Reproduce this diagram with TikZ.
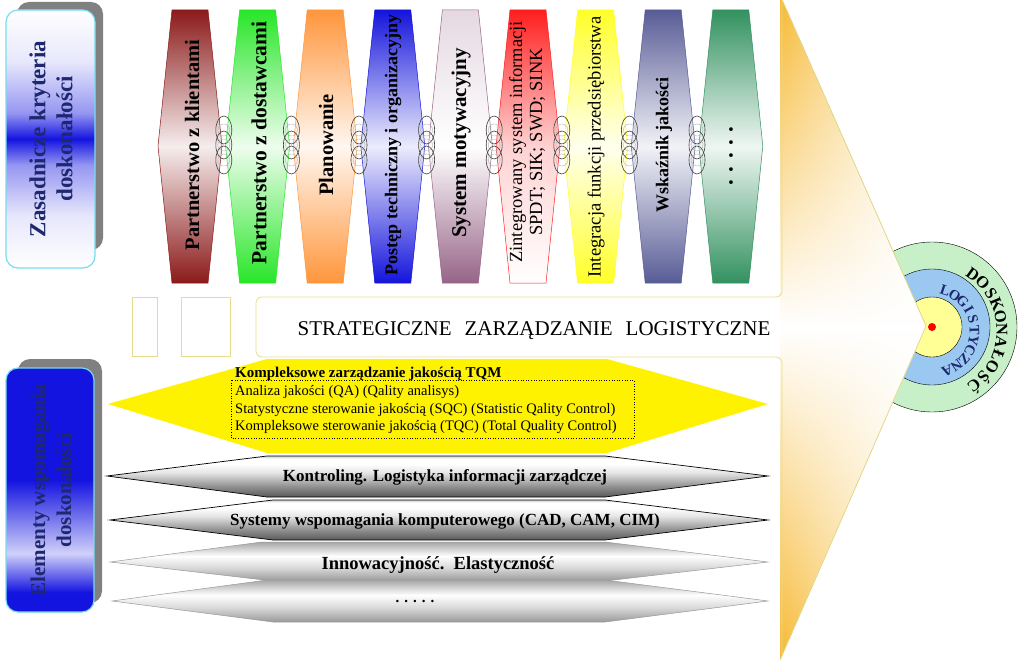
\documentclass[tikz,border=0pt]{standalone}
\usepackage{fontspec}
\setmainfont{Liberation Serif}
\usetikzlibrary{fadings}

\definecolor{hexred}{RGB}{139,26,26}
\definecolor{hexgreen}{RGB}{40,230,40}
\definecolor{hexorange}{RGB}{255,150,60}
\definecolor{hexblue}{RGB}{20,20,220}
\definecolor{hexmauve}{RGB}{150,100,135}
\definecolor{hexbright}{RGB}{255,30,30}
\definecolor{hexyellow}{RGB}{255,255,40}
\definecolor{hexslate}{RGB}{88,92,150}
\definecolor{hexteal}{RGB}{50,145,95}
\definecolor{panelline}{RGB}{230,220,140}
\definecolor{arroworange}{RGB}{247,185,50}
\definecolor{boxblue}{RGB}{20,20,225}
\definecolor{boxline}{RGB}{120,220,240}
\definecolor{navytext}{RGB}{30,40,110}
\definecolor{ringgreen}{RGB}{200,240,200}
\definecolor{ringblue}{RGB}{155,200,240}
\definecolor{ringyellow}{RGB}{255,255,150}

\pgfdeclareverticalshading{metal}{100bp}{color(0bp)=(black!65); color(25bp)=(black!65); color(37bp)=(black!45); color(55bp)=(black!10); color(65bp)=(white); color(72bp)=(white); color(75bp)=(black!20); color(100bp)=(black!20)}
\pgfdeclareverticalshading{metallight}{100bp}{color(0bp)=(black!40); color(25bp)=(black!40); color(42bp)=(black!15); color(57bp)=(white); color(75bp)=(black!35); color(100bp)=(black!35)}
\pgfdeclareverticalshading{bluemid}{100bp}{color(0bp)=(white); color(25bp)=(white); color(35bp)=(boxblue!10); color(45bp)=(boxblue!45); color(50bp)=(boxblue); color(55bp)=(boxblue!45); color(65bp)=(boxblue!10); color(75bp)=(white); color(100bp)=(white)}
\pgfdeclareverticalshading{bluebox}{100bp}{color(0bp)=(boxblue); color(29bp)=(boxblue); color(37bp)=(boxblue!20); color(52bp)=(boxblue); color(100bp)=(boxblue)}
\tikzfading[name=fadetip, left color=transparent!100, right color=transparent!0]

\begin{document}
\begin{tikzpicture}[x=1pt,y=-1pt,
  hexa/.style={draw=#1,line width=0.5pt,top color=#1,bottom color=#1,middle color=#1!8},
  vtext/.style={rotate=90,align=center,inner sep=0pt},
  link/.style={draw=black!75,line width=0.6pt},
  linkin/.style={draw=black!30,line width=0.4pt},
  panel/.style={draw=panelline,line width=0.8pt},
  band/.style={shade,shading=metal,draw=black,line width=0.7pt},
  bandlight/.style={shade,shading=metallight,draw=black!40,line width=0.5pt},
  sidebox/.style={draw=boxline,line width=1.2pt,rounded corners=12pt},
  shadowbox/.style={fill=gray,rounded corners=12pt},
  ringletter/.style={inner sep=0pt,font=\bfseries\fontsize{16.5}{16}\selectfont}]
\useasboundingbox (0,0) rectangle (1024,660);

\draw[fill=ringgreen] (932,327) circle (85);
\draw[fill=ringblue] (932,327) circle (58);
\draw[fill=ringyellow] (932,327) circle (30);

\fill[top color=arroworange,bottom color=arroworange,middle color=white] (780,-5) -- (926,326) -- (780,660) -- cycle;
\fill[white,path fading=fadetip] (780,-5) -- (926,326) -- (780,660) -- cycle;
\draw[panel] (780,-5) -- (926,326) -- (780,660);
\fill[red] (932,327) circle (4);

\foreach \l [count=\i, evaluate=\i as \a using 54.2-10.63*(\i-1)] in {D,O,S,K,O,N,A,Ł,O,Ś,Ć}
  \node[ringletter,rotate=\a-90] (dosk\i) at ([shift={(\a:70pt)}]932,331) {\l};
\foreach \l [count=\i, evaluate=\i as \a using 72-14.1*(\i-1)] in {L,O,G,I,S,T,Y,C,Z,N,A}
  \node[ringletter,text=navytext,font=\bfseries\fontsize{14.5}{14}\selectfont,rotate=\a-90] (logi\i) at ([shift={(\a:42.5pt)}]932,331) {\l};

\draw[panel,rounded corners=6pt] (782,0) -- (782,297) -- (256,297) -- (256,357) -- (782,357) -- (782,655);
\draw[panel] (132,297) rectangle (157,356);
\draw[panel] (181,297) rectangle (230,356);

\path[hexa=hexred] (172,10) -- ++(36,0) -- ++(14,136) -- ++(-14,137) -- ++(-36,0) -- ++(-14,-137) -- cycle;
\path[hexa=hexgreen] (239.6,10) -- ++(36,0) -- ++(14,136) -- ++(-14,137) -- ++(-36,0) -- ++(-14,-137) -- cycle;
\path[hexa=hexorange] (307.2,10) -- ++(36,0) -- ++(14,136) -- ++(-14,137) -- ++(-36,0) -- ++(-14,-137) -- cycle;
\path[hexa=hexblue] (374.8,10) -- ++(36,0) -- ++(14,136) -- ++(-14,137) -- ++(-36,0) -- ++(-14,-137) -- cycle;
\path[draw=hexmauve,line width=0.5pt,top color=hexmauve!25,bottom color=hexmauve,middle color=white] (442.4,10) -- ++(36,0) -- ++(14,136) -- ++(-14,137) -- ++(-36,0) -- ++(-14,-137) -- cycle;
\path[draw=hexbright,line width=0.5pt,top color=hexbright,bottom color=white,middle color=hexbright!20] (510,10) -- ++(36,0) -- ++(14,136) -- ++(-14,137) -- ++(-36,0) -- ++(-14,-137) -- cycle;
\path[hexa=hexyellow] (577.6,10) -- ++(36,0) -- ++(14,136) -- ++(-14,137) -- ++(-36,0) -- ++(-14,-137) -- cycle;
\path[hexa=hexslate] (645.2,10) -- ++(36,0) -- ++(14,136) -- ++(-14,137) -- ++(-36,0) -- ++(-14,-137) -- cycle;
\path[hexa=hexteal] (712.8,10) -- ++(36,0) -- ++(14,136) -- ++(-14,137) -- ++(-36,0) -- ++(-14,-137) -- cycle;

\foreach \cx in {223.8,291.4,359,426.6,494.2,561.8,629.4,697}
  \foreach \cy in {130,145,160} {
    \draw[linkin] (\cx,\cy) circle (6);
    \draw[link] (\cx,\cy) ellipse (8 and 14);
  }

\node[vtext,font=\bfseries\fontsize{20.5}{22}\selectfont] (klient) at (192,145) {Partnerstwo z klientami};
\node[vtext,font=\bfseries\fontsize{21.5}{22}\selectfont] (dostaw) at (259,143) {Partnerstwo z dostawcami};
\node[vtext,font=\bfseries\fontsize{20.5}{22}\selectfont] (plan) at (326,145) {Planowanie};
\node[vtext,font=\bfseries\fontsize{18}{20}\selectfont] (postep) at (393,145) {Postęp techniczny i organizacyjny};
\node[vtext,font=\bfseries\fontsize{21}{22}\selectfont] (motyw) at (461,143) {System motywacyjny};
\node[vtext,font=\fontsize{18.5}{20}\selectfont] (zinteg) at (527,142) {Zintegrowany system informacji\\SPDT; SIK; SWD; SINK};
\node[vtext,font=\fontsize{18.5}{20}\selectfont] (integr) at (596,147) {Integracja funkcji przedsiębiorstwa};
\node[vtext,font=\bfseries\fontsize{18}{20}\selectfont] (wskaz) at (664,145) {Wskaźnik jakości};
\node[vtext,font=\bfseries\fontsize{23}{24}\selectfont] (kropki) at (731,156) {. . . . .};

\node[font=\fontsize{21}{22}\selectfont] (strat) at (534,331) {STRATEGICZNE\hspace{13pt}ZARZĄDZANIE\hspace{13pt}LOGISTYCZNE};

\fill[yellow] (108,404) -- (267,359) -- (607,359) -- (768,404) -- (607,453) -- (267,453) -- cycle;
\node[anchor=base west,inner sep=0pt,font=\bfseries\fontsize{15}{16}\selectfont] (tqm) at (235,377) {Kompleksowe zarządzanie jakością TQM};
\draw[dotted,line width=0.6pt] (231,380) rectangle (634,438);
\node[anchor=base west,inner sep=0pt,font=\fontsize{14.5}{16}\selectfont] (qa) at (235,395) {Analiza jakości (QA) (Qality analisys)};
\node[anchor=base west,inner sep=0pt,font=\fontsize{14.5}{16}\selectfont] (sqc) at (235,413) {Statystyczne sterowanie jakością (SQC) (Statistic Qality Control)};
\node[anchor=base west,inner sep=0pt,font=\fontsize{14.5}{16}\selectfont] (tqc) at (235,430.5) {Kompleksowe sterowanie jakością (TQC) (Total Quality Control)};

\path[band] (107,476) -- (267,456) -- (605,456) -- (768,476) -- (605,497) -- (267,497) -- cycle;
\path[band] (110,520) -- (273,500) -- (605,500) -- (768,520) -- (605,540) -- (273,540) -- cycle;
\path[bandlight] (110,562) -- (262,542) -- (605,542) -- (768,562) -- (605,581) -- (273,581) -- cycle;
\path[bandlight] (112,601) -- (267,580) -- (605,580) -- (768,601) -- (605,622) -- (273,622) -- cycle;
\node[font=\bfseries\fontsize{17}{18}\selectfont] (kontr) at (445,477) {Kontroling. Logistyka informacji zarządczej};
\node[font=\bfseries\fontsize{17}{18}\selectfont] (cad) at (445,521) {Systemy wspomagania komputerowego (CAD, CAM, CIM)};
\node[font=\bfseries\fontsize{18.5}{20}\selectfont] (innow) at (438,565) {Innowacyjność.\ \ Elastyczność};
\node[font=\bfseries\fontsize{15}{16}\selectfont] (dalej) at (415,601) {. . . . .};

\path[shadowbox] (17,2) rectangle (103,250);
\path[sidebox,shade,shading=bluemid] (6,10) rectangle (95,268);
\node[vtext,text=navytext,font=\bfseries\fontsize{23}{27}\selectfont] (kryt) at (51,139) {Zasadnicze kryteria\\doskonałości};
\path[shadowbox] (18,359) rectangle (102,603);
\path[sidebox,shade,shading=bluebox] (6,368) rectangle (94,612);
\node[vtext,text=navytext,font=\bfseries\fontsize{21}{26}\selectfont] (elem) at (51,490) {Elementy wspomagania\\doskonałości};
\end{tikzpicture}
\end{document}
